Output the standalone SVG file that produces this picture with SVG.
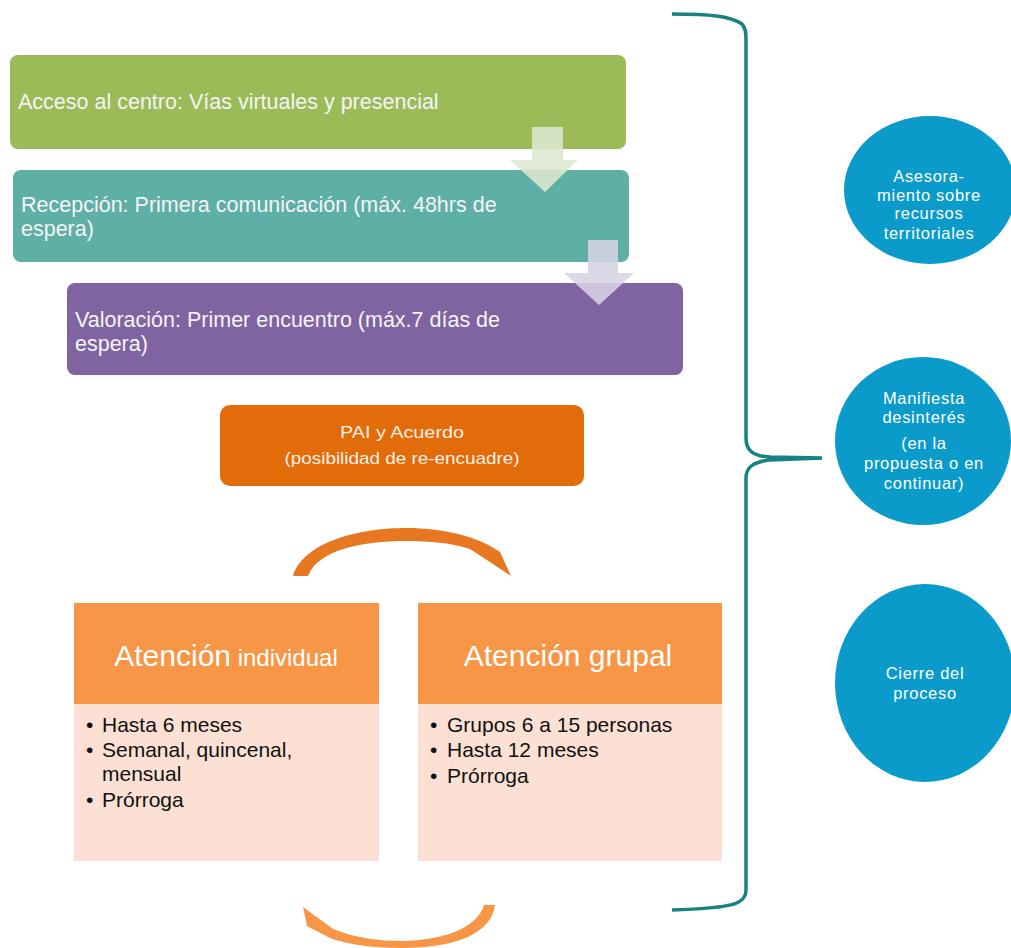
<svg xmlns="http://www.w3.org/2000/svg" width="1011" height="948" viewBox="0 0 1011 948">
  <style>
    .lbl { font-family: "Liberation Sans", Arial, sans-serif; fill: #F4F4F4; font-size: 21.5px; }
    .pai { font-family: "Liberation Sans", Arial, sans-serif; fill: #FBEFE6; font-size: 17px; text-anchor: middle; }
    .head { font-family: "Liberation Sans", Arial, sans-serif; fill: #FFFFFF; text-anchor: middle; }
    .item { font-family: "Liberation Sans", Arial, sans-serif; fill: #111111; font-size: 21px; }
    .circ { font-family: "Liberation Sans", Arial, sans-serif; fill: #FFFFFF; font-size: 16.5px; text-anchor: middle; letter-spacing: 0.7px; }
    .blue { fill: #0A9BCB; }
  </style>

  <rect width="1011" height="948" fill="#FFFFFF"/>

  <!-- process steps -->
  <g id="acceso">
    <rect x="10" y="55" width="616" height="94" rx="8" fill="#9BBB59"/>
    <text class="lbl" x="18" y="109">Acceso al centro: Vías virtuales y presencial</text>
  </g>
  <g id="recepcion">
    <rect x="13" y="170" width="616" height="92" rx="8" fill="#5EAFA5"/>
    <text class="lbl" x="21" y="212">Recepción: Primera comunicación (máx.  48hrs de</text>
    <text class="lbl" x="21" y="236">espera)</text>
  </g>
  <g id="valoracion">
    <rect x="67" y="283" width="616" height="92" rx="8" fill="#8064A2"/>
    <text class="lbl" x="75" y="327">Valoración: Primer encuentro (máx.7 días de</text>
    <text class="lbl" x="75" y="351">espera)</text>
  </g>

  <!-- step arrows, cycle arcs and brace -->
  <g id="connectors">
    <path d="M532,127 H563 V160 H578 L545,192 L510,160 H532 Z" fill="#DCE7CF" fill-opacity="0.88"/>
    <path d="M588,240 H618 V273 H634 L599,305 L564,273 H588 Z" fill="#D6D3E5" fill-opacity="0.88"/>
    <path d="M293,576 C303,542 360,528 405,528 C448,528 480,538 500,552 L511,576 L470,549 C452,543 430,541 405,541 C365,541 318,549 308,576 Z" fill="#E87722"/>
    <path d="M303,907 L333,929 C355,938 380,941 402,941 C450,940 478,925 484,905 L495,905 C492,932 458,948 402,948 C370,948 346,944 330,938 L307,926 Z" fill="#F79646"/>
    <path d="M672,14 C710,14 730,16 742,24 C746,28 746,34 746,40 L746,438 C746,450 752,456 770,457 L822,458 L770,460 C752,462 746,468 746,478 L746,890 C746,905 730,908 672,910" fill="none" stroke="#17827F" stroke-width="3.5"/>
  </g>

  <g id="pai">
    <rect x="220" y="405" width="364" height="81" rx="10" fill="#E36C0A"/>
    <text class="pai" x="402" y="438" textLength="124" lengthAdjust="spacingAndGlyphs">PAI y Acuerdo</text>
    <text class="pai" x="402" y="464" textLength="235" lengthAdjust="spacingAndGlyphs">(posibilidad de re-encuadre)</text>
  </g>

  <g id="individual">
    <rect x="74" y="603" width="305" height="101" fill="#F79646"/>
    <rect x="74" y="704" width="305" height="157" fill="#FBE0D3"/>
    <text class="head" x="226" y="666"><tspan font-size="30">Atención</tspan><tspan font-size="24"> individual</tspan></text>
    <text class="item" x="86" y="732">•</text><text class="item" x="102" y="732">Hasta 6 meses</text>
    <text class="item" x="86" y="757">•</text><text class="item" x="102" y="757">Semanal, quincenal,</text>
    <text class="item" x="102" y="781">mensual</text>
    <text class="item" x="86" y="807">•</text><text class="item" x="102" y="807">Prórroga</text>
  </g>

  <g id="grupal">
    <rect x="418" y="603" width="304" height="101" fill="#F79646"/>
    <rect x="418" y="704" width="304" height="157" fill="#FBE0D3"/>
    <text class="head" x="568" y="666" font-size="30">Atención grupal</text>
    <text class="item" x="430" y="732">•</text><text class="item" x="447" y="732">Grupos 6 a 15 personas</text>
    <text class="item" x="430" y="757">•</text><text class="item" x="447" y="757">Hasta 12 meses</text>
    <text class="item" x="430" y="783">•</text><text class="item" x="447" y="783">Prórroga</text>
  </g>

  <g id="asesoramiento">
    <ellipse class="blue" cx="930" cy="190" rx="86" ry="74"/>
    <text class="circ" x="929" y="182">Asesora-</text>
    <text class="circ" x="929" y="201">miento sobre</text>
    <text class="circ" x="929" y="219">recursos</text>
    <text class="circ" x="929" y="239">territoriales</text>
  </g>
  <g id="desinteres">
    <ellipse class="blue" cx="923" cy="441" rx="88" ry="84"/>
    <text class="circ" x="924" y="404">Manifiesta</text>
    <text class="circ" x="924" y="423">desinterés</text>
    <text class="circ" x="924" y="449">(en la</text>
    <text class="circ" x="924" y="469">propuesta o en</text>
    <text class="circ" x="924" y="489">continuar)</text>
  </g>
  <g id="cierre">
    <ellipse class="blue" cx="925" cy="683" rx="90" ry="99"/>
    <text class="circ" x="925" y="679">Cierre  del</text>
    <text class="circ" x="925" y="699">proceso</text>
  </g>
</svg>
